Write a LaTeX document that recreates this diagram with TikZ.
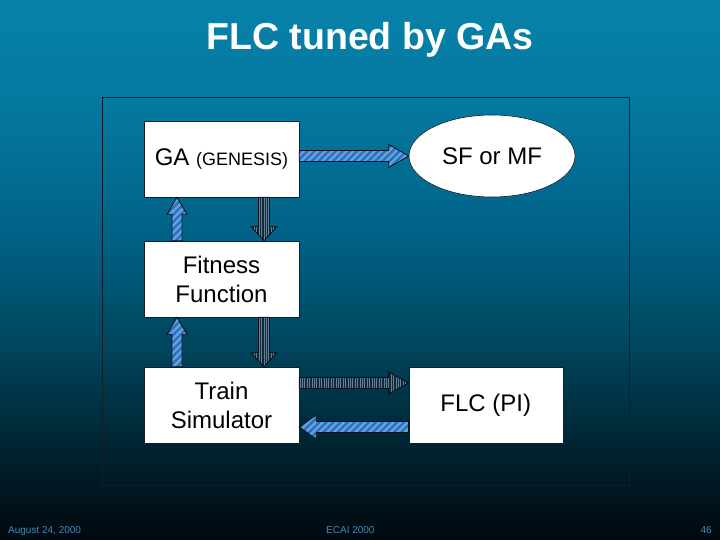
\documentclass[tikz,border=0pt]{standalone}
\usepackage{fontspec}
\setmainfont{Liberation Sans}
\setsansfont{Liberation Sans}
\usetikzlibrary{calc,patterns.meta,shapes.geometric}
\definecolor{bgA}{RGB}{8,130,170}
\definecolor{bgB}{RGB}{4,118,158}
\definecolor{bgC}{RGB}{0,95,130}
\definecolor{bgD}{RGB}{0,68,92}
\definecolor{bgE}{RGB}{0,38,52}
\definecolor{bgF}{RGB}{0,8,14}
\definecolor{footc}{RGB}{70,140,180}
\definecolor{framec}{RGB}{20,30,38}
\definecolor{bluefill}{RGB}{48,112,188}
\definecolor{bluestripe}{RGB}{100,165,228}
\definecolor{darkfill}{RGB}{18,42,58}
\definecolor{darkstripe}{RGB}{100,130,150}
\definecolor{arrowline}{RGB}{8,16,26}
\newcommand\blockarrow[6]{%
  \coordinate (ba-s) at (#2);
  \coordinate (ba-e) at (#3);
  \coordinate (ba-h) at ($(ba-e)!#6!(ba-s)$);
  \path[#1] ($(ba-s)!#4!90:(ba-e)$) -- ($(ba-h)!#4!90:(ba-e)$) -- ($(ba-h)!#5!90:(ba-e)$) -- (ba-e)
    -- ($(ba-h)!#5!-90:(ba-e)$) -- ($(ba-h)!#4!-90:(ba-e)$) -- ($(ba-s)!#4!-90:(ba-e)$) -- cycle;}
\begin{document}
\begin{tikzpicture}[x=1pt,y=1pt,
  boxnode/.style={draw=framec, line width=0.6pt, fill=white, minimum width=155pt, minimum height=76pt,
    inner sep=0pt, align=center, font=\fontsize{24}{29}\selectfont},
  ellnode/.style={draw=framec, line width=0.6pt, fill=white, ellipse, minimum width=166pt, minimum height=82pt,
    inner sep=0pt, font=\fontsize{24}{29}\selectfont},
  bluearrow/.style={draw=arrowline, line width=0.8pt, preaction={fill=bluefill},
    pattern={Lines[angle=45,distance=5pt,line width=2.2pt]}, pattern color=bluestripe},
  darkarrow/.style={draw=arrowline, line width=0.8pt, preaction={fill=darkfill},
    pattern={Lines[angle=90,distance=2.4pt,line width=0.9pt]}, pattern color=darkstripe},
  foot/.style={text=footc, font=\fontsize{10}{12}\selectfont, inner sep=0pt}]
\useasboundingbox (0,0) rectangle (720,540);
% background gradient
\shade[top color=bgA, bottom color=bgB] (0,540) rectangle (720,420);
\shade[top color=bgB, bottom color=bgC] (0,420.5) rectangle (720,290);
\shade[top color=bgC, bottom color=bgD] (0,290.5) rectangle (720,190);
\shade[top color=bgD, bottom color=bgE] (0,190.5) rectangle (720,100);
\shade[top color=bgE, bottom color=bgF] (0,100.5) rectangle (720,0);
% title
\node[text=white, font=\fontsize{37.5}{40}\selectfont\bfseries, anchor=base, inner sep=0pt] (title) at (370,490) {FLC tuned by GAs};
% frame
\draw[framec, line width=0.8pt] (102.5,443) rectangle (629,55);
% nodes
\node[boxnode] (ga) at (221.5,381) {GA {\fontsize{18}{20}\selectfont (GENESIS)}};
\node[boxnode] (fit) at (221.5,261) {Fitness\\Function};
\node[boxnode] (ts) at (221.5,135) {Train\\Simulator};
\node[boxnode, minimum width=154pt] (flc) at (485.8,135) {FLC (PI)};
\node[ellnode] (sf) at (492,384) {SF or MF};
% arrows
\blockarrow{bluearrow}{ga.east |- sf.west}{sf.west}{5.5pt}{11.5pt}{20pt}
\blockarrow{darkarrow}{$(ga.south)+(42.5,0)$}{$(fit.north)+(42.5,0)$}{5.5pt}{13pt}{14pt}
\blockarrow{darkarrow}{$(fit.south)+(42.5,0)$}{$(ts.north)+(42.5,0)$}{5.5pt}{13pt}{14pt}
\blockarrow{bluearrow}{$(fit.north)+(-44.5,0)$}{$(ga.south)+(-44.5,0)$}{5pt}{10pt}{17pt}
\blockarrow{bluearrow}{$(ts.north)+(-44.5,0)$}{$(fit.south)+(-44.5,0)$}{5pt}{10pt}{17pt}
\coordinate (tsr) at ($(ts.east)+(0,22)$);
\coordinate (flcl) at ($(flc.west)+(0,-22)$);
\blockarrow{darkarrow}{tsr}{flc.west |- tsr}{5.5pt}{11pt}{20pt}
\blockarrow{bluearrow}{flcl}{ts.east |- flcl}{5.5pt}{12pt}{17pt}
% footer
\node[foot, anchor=base west] (date) at (8,6) {August 24, 2000};
\node[foot, anchor=base west] (conf) at (326,6) {ECAI 2000};
\node[foot, anchor=base east] (page) at (712,6) {46};
\end{tikzpicture}
\end{document}
